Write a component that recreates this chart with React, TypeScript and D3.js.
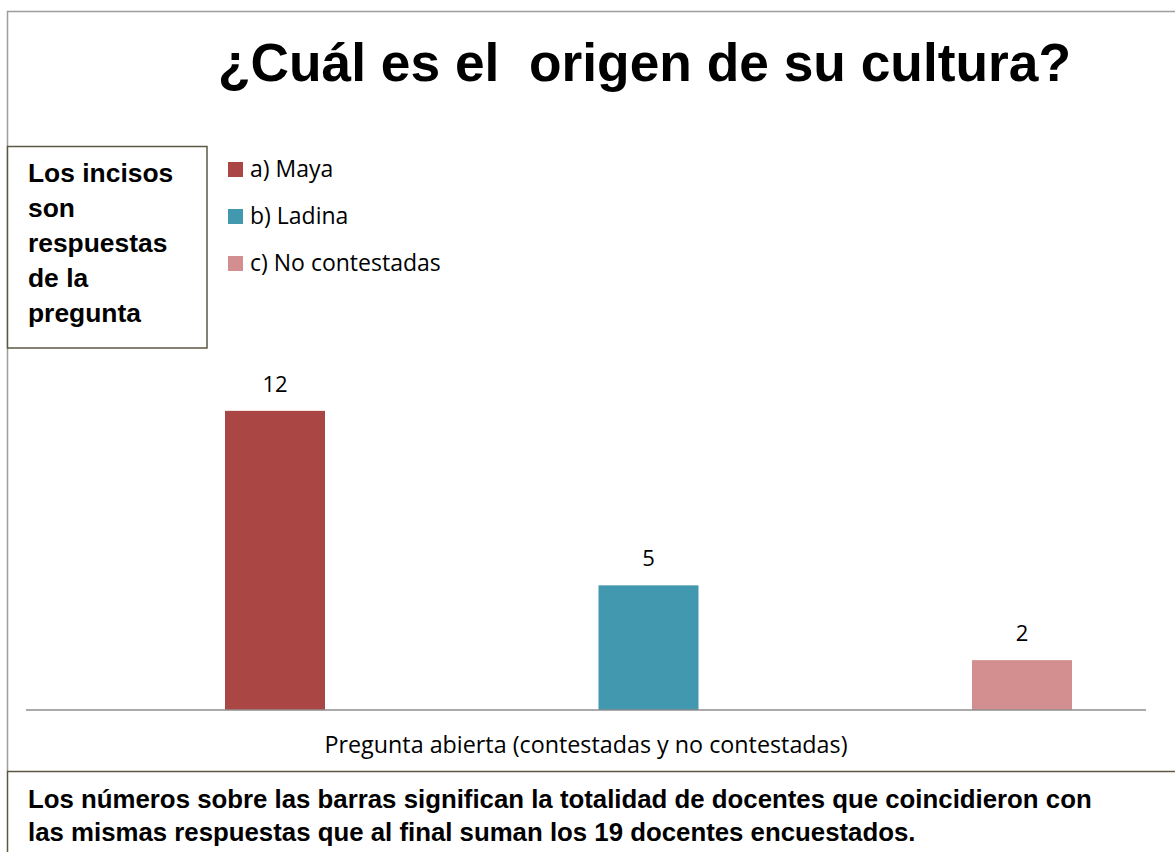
import React from 'react';
import * as d3 from 'd3';

const categories = ['a) Maya', 'b) Ladina', 'c) No contestadas'];
const values = [12, 5, 2];
const colors = ['#AA4644', '#4198AF', '#D38F8F'];
const yMax = 14;

const title = '¿Cuál es el  origen de su cultura?';
const axisTitle = 'Pregunta abierta (contestadas y no contestadas)';
const noteLines = ['Los incisos', 'son', 'respuestas', 'de la', 'pregunta'];
const footLines = [
  'Los números sobre las barras significan la totalidad de docentes que coincidieron con',
  'las mismas respuestas que al final suman los 19 docentes encuestados.',
];

const W = 1175, H = 852;
const baseY = 710;
const barW = 100;
const sans = "'Liberation Sans', Arial, sans-serif";
const body = "'Open Sans', 'Noto Sans', sans-serif";

const App = () => {
  const x = d3.scalePoint<string>().domain(categories).range([275, 1022]);
  const y = d3.scaleLinear().domain([0, yMax]).range([baseY, 361]);

  return (
    <svg width={W} height={H} style={{ position: 'absolute', left: 0, top: 0, background: '#fff' }}>
      {/* outer chart frame */}
      <path d={`M7.5,771 V11.5 H${W}`} fill="none" stroke="#9d9d9d" strokeWidth={1.5} />

      <text x={218} y={81} fontFamily={sans} fontWeight="bold" fontSize={53.3} style={{ whiteSpace: 'pre' }}>
        {title}
      </text>

      {/* note box */}
      <rect x={7.5} y={146.5} width={199.5} height={201.5} fill="#fff" stroke="#5b5843" strokeWidth={1.5} />
      {noteLines.map((t, i) => (
        <text key={t} x={28} y={182 + i * 35} fontFamily={sans} fontWeight="bold" fontSize={26.4}>
          {t}
        </text>
      ))}

      {/* legend */}
      {categories.map((c, i) => (
        <g key={c} transform={`translate(228,${162 + i * 47})`}>
          <rect width={15} height={15} fill={colors[i]} />
          <text x={22} y={15} fontFamily={body} fontSize={23} fill="#000">{c}</text>
        </g>
      ))}

      {/* bars */}
      {values.map((v, i) => (
        <g key={categories[i]}>
          <rect x={x(categories[i])! - barW / 2} y={y(v)} width={barW} height={baseY - y(v)} fill={colors[i]} />
          <text x={x(categories[i])} y={y(v) - 19} textAnchor="middle" fontFamily={body} fontSize={22}>{v}</text>
        </g>
      ))}

      <line x1={26} x2={1146} y1={baseY} y2={baseY} stroke="#8e8e8e" strokeWidth={1.5} />
      <text x={586} y={753} textAnchor="middle" fontFamily={body} fontSize={23.3}>{axisTitle}</text>

      {/* footnote box */}
      <rect x={7.5} y={771.5} width={W} height={H} fill="#fff" stroke="#5b5843" strokeWidth={1.5} />
      {footLines.map((t, i) => (
        <text key={i} x={28} y={808 + i * 33} fontFamily={sans} fontWeight="bold" fontSize={25.8}>{t}</text>
      ))}
    </svg>
  );
};

export default App;
